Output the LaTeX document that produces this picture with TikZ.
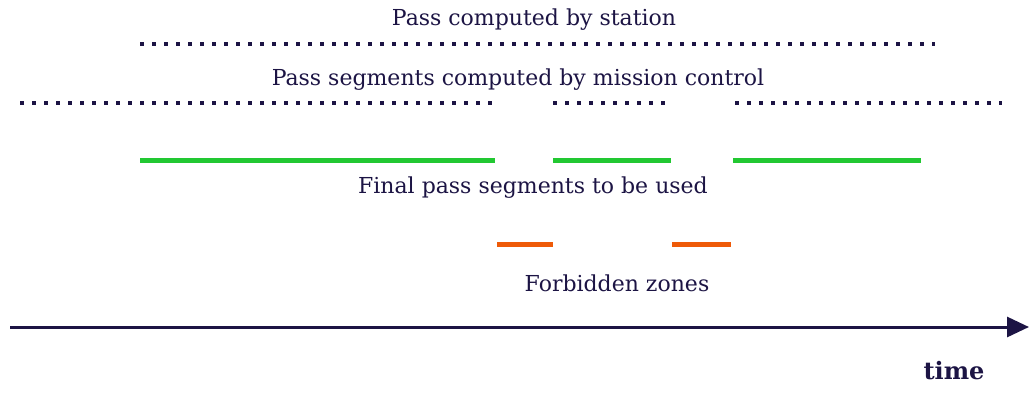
\documentclass[tikz,border=0pt]{standalone}
\usepackage{fontspec}
\setmainfont{DejaVu Serif}
\usetikzlibrary{arrows.meta}
\definecolor{inkNavy}{HTML}{1C1444}
\definecolor{passGreen}{HTML}{22C832}
\definecolor{zoneOrange}{HTML}{EE5A08}

\begin{document}
\begin{tikzpicture}
[x=1pt,y=-1pt,
  dotDecorate/.style={draw=inkNavy,line width=4pt,dash pattern=on 4pt off 8pt},%
  greenDecorate/.style={draw=passGreen,line width=5pt},%
  orangeDecorate/.style={draw=zoneOrange,line width=5pt},%
  textDecorate/.style={text=inkNavy,inner sep=0pt,font=\fontsize{22}{24}\selectfont},%
  timeDecorate/.style={draw=inkNavy,line width=3pt,-{Triangle[length=22pt,width=20pt]}}]
\useasboundingbox (0,0) rectangle (1029,392);
%% end points of the lines
\foreach \nodename/\x/\y in {
  st1/140/44, st2/935/44,
  mc1/20/103, mc2/492/103, mc3/553/103, mc4/672/103, mc5/735/103, mc6/1002/103,
  fp1/140/160, fp2/495/160, fp3/553/160, fp4/671/160, fp5/733/160, fp6/921/160,
  fz1/497/244, fz2/553/244, fz3/672/244, fz4/731/244,
  t1/10/327, t2/1029/327}
{
  \coordinate (\nodename) at (\x,\y);
}
%% labels
\node (station) at (534,20) [textDecorate] {Pass computed by station};
\node (mission) at (518,80) [textDecorate] {Pass segments computed by mission control};
\node (final) at (533,188) [textDecorate] {Final pass segments to be used};
\node (forbidden) at (617,283) [textDecorate] {Forbidden zones};
\node (time) at (954,371) [textDecorate,font=\fontsize{24}{26}\selectfont\bfseries] {time};
%% lines
\path
\foreach \startnode/\endnode in {st1/st2, mc1/mc2, mc3/mc4, mc5/mc6}
{
  (\startnode) edge[dotDecorate] (\endnode)
};
\path
\foreach \startnode/\endnode in {fp1/fp2, fp3/fp4, fp5/fp6}
{
  (\startnode) edge[greenDecorate] (\endnode)
};
\path
\foreach \startnode/\endnode in {fz1/fz2, fz3/fz4}
{
  (\startnode) edge[orangeDecorate] (\endnode)
};
\draw[timeDecorate] (t1) -- (t2);
\end{tikzpicture}
\end{document}
